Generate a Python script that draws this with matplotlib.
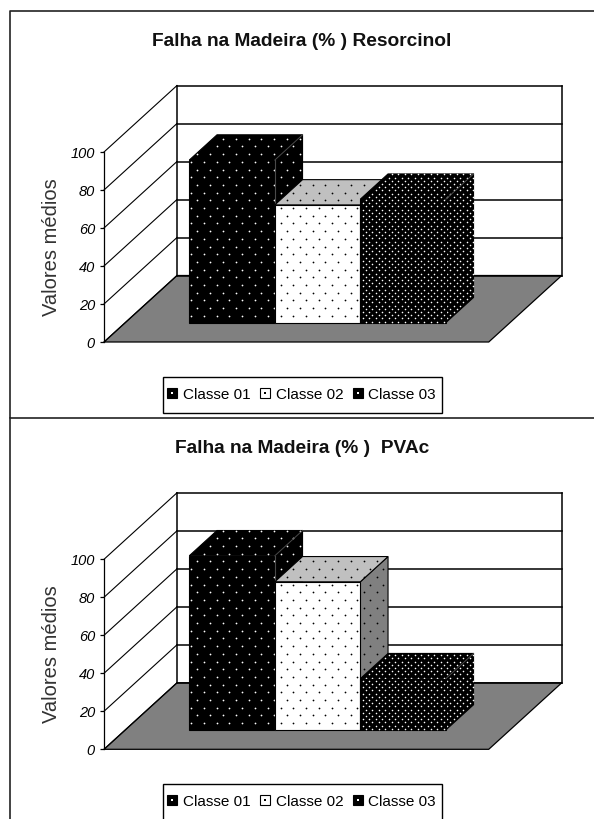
import numpy as np
import matplotlib
matplotlib.use("Agg")
import matplotlib.pyplot as plt
from matplotlib.lines import Line2D
from matplotlib.patches import Polygon, Rectangle
from matplotlib.path import Path
from matplotlib.transforms import blended_transform_factory
from matplotlib.legend_handler import HandlerTuple

plt.rcParams['font.family'] = ['Liberation Sans', 'DejaVu Sans']

# values
classes = ["Classe 01", "Classe 02", "Classe 03"]
resorcinol = [85.6, 62, 65]
pvac = [91.7, 78, 27]
yticks = [0, 20, 40, 60, 80, 100]

W, H = 594, 819
PX_X = 85.5   # pixels per category
PX_Y = 1.9    # pixels per percent
DEPTH_X = 73 / PX_X    # full floor depth, in data units
DEPTH_Y = 66.5 / PX_Y
FLOOR_W = 4.5
BAR_X0, BAR_W = 0.75, 1.0
BAR_D0, BAR_D1 = 0.29, 0.67
EDGE_GREY = "#4a4a4a"

# (front, top, side, dot colour, dot dx px, dot dy px, dot size)
styles = [
    ("black", "black", "black", "white", 12.8, 7.7, 1.6),
    ("white", "#c0c0c0", "#808080", "black", 12.8, 7.7, 1.6),
    ("black", "black", "black", "white", 6.5, 3.2, 1.3),
]


def proj(x, v, d):
    return x + DEPTH_X * d, v + DEPTH_Y * d


def dotted_face(ax, corners, color, dot, dx, dy, size, z):
    ax.add_patch(Polygon(corners, closed=True, facecolor=color, edgecolor="black", lw=0.8, zorder=z))
    # staggered dots, on a grid shared by the whole plot
    gx = dx / PX_X
    gy = dy / PX_Y
    xs, ys = [], []
    for i, yy in enumerate(np.arange(0.4 * gy, 180, gy)):
        xx = np.arange(0.3 * gx + (i % 2) * gx / 2, 6, gx)
        xs.extend(xx)
        ys.extend([yy] * len(xx))
    pts = np.column_stack([xs, ys])
    pts = pts[Path(corners).contains_points(pts)]
    ax.scatter(pts[:, 0], pts[:, 1], s=size, color=dot, linewidths=0, zorder=z + 0.1)


def draw_panel(y0_px, title, title_y, values):
    # axes runs from the front floor corner to the top right of the back wall
    right = (FLOOR_W + DEPTH_X) * PX_X
    top = (100 + DEPTH_Y) * PX_Y
    ax = fig.add_axes([104 / W, 1 - y0_px / H, right / W, top / H])
    ax.set_xlim(0, right / PX_X)
    ax.set_ylim(0, top / PX_Y)
    ax.patch.set_visible(False)
    for s in ["top", "right", "bottom"]:
        ax.spines[s].set_visible(False)
    ax.spines["left"].set_bounds(0, 100)
    ax.spines["left"].set_linewidth(0.9)
    ax.set_xticks([])
    ax.set_yticks(yticks)
    ax.tick_params(axis="y", length=3, width=0.9, pad=3.5, labelsize=10.5)
    for t in ax.get_yticklabels():
        t.set_style("italic")
    ax.set_ylabel("Valores médios", fontsize=14.5, color="#333333")
    ax.yaxis.set_label_coords(61 / W, 50, transform=blended_transform_factory(fig.transFigure, ax.transData))

    # floor
    floor = [proj(0, 0, 0), proj(FLOOR_W, 0, 0), proj(FLOOR_W, 0, 1), proj(0, 0, 1)]
    ax.add_patch(Polygon(floor, closed=True, facecolor="#808080", edgecolor="black", lw=0.9,
                         zorder=1, clip_on=False))

    # walls and gridlines
    for v in yticks:
        ax.plot(*zip(proj(0, v, 0), proj(0, v, 1)), color="black", lw=0.8, zorder=2, clip_on=False)
        ax.plot(*zip(proj(0, v, 1), proj(FLOOR_W, v, 1)), color="black", lw=1.1, zorder=2, clip_on=False)
    ax.plot(*zip(proj(0, 0, 1), proj(0, 100, 1)), color="black", lw=1.1, zorder=2, clip_on=False)
    ax.plot(*zip(proj(FLOOR_W, 0, 1), proj(FLOOR_W, 100, 1)), color="black", lw=1.1, zorder=2, clip_on=False)

    # bars, left to right
    for i, v in enumerate(values):
        fc, tc, sc, dot, dx, dy, size = styles[i]
        x0 = BAR_X0 + i * BAR_W
        x1 = x0 + BAR_W
        z = 3 + i
        front = [proj(x0, 0, BAR_D0), proj(x1, 0, BAR_D0), proj(x1, v, BAR_D0), proj(x0, v, BAR_D0)]
        roof = [proj(x0, v, BAR_D0), proj(x1, v, BAR_D0), proj(x1, v, BAR_D1), proj(x0, v, BAR_D1)]
        side = [proj(x1, 0, BAR_D0), proj(x1, 0, BAR_D1), proj(x1, v, BAR_D1), proj(x1, v, BAR_D0)]
        dotted_face(ax, side, sc, dot, dx, dy, size, z)
        dotted_face(ax, roof, tc, dot, dx, dy, size, z + 0.2)
        dotted_face(ax, front, fc, dot, dx, dy, size, z + 0.4)
        # black bars only show their corner edges as a faint grey line
        if fc == "black":
            ax.plot(*zip(proj(x1, v, BAR_D0), proj(x1, v, BAR_D1)), color=EDGE_GREY, lw=0.7, zorder=z + 0.5)
        if i == 0:
            ax.plot(*zip(proj(x1, 0, BAR_D0), proj(x1, v, BAR_D0)), color=EDGE_GREY, lw=0.8, zorder=z + 0.5)

    fig.text(302 / W, 1 - title_y / H, title, ha="center", va="center",
             fontsize=13.8, fontweight="bold", color="#111111")
    return ax


def legend_handles():
    out = []
    for fc, dot in [("black", "white"), ("white", "black"), ("black", "white")]:
        out.append((Line2D([], [], marker="s", ms=6.5, mfc=fc, mec="black", mew=0.8, ls=""),
                    Line2D([], [], marker="s", ms=1.5, mfc=dot, mec=dot, mew=0, ls="")))
    return out


def draw_legend(y_top, y_bot):
    # box is drawn apart, the reference has less side padding than height
    fig.add_artist(Rectangle((163 / W, 1 - y_bot / H), 279 / W, (y_bot - y_top) / H,
                             transform=fig.transFigure, facecolor="white", edgecolor="black",
                             lw=1.0, zorder=19))
    leg = fig.legend(legend_handles(), classes, ncol=3, loc="center",
                     bbox_to_anchor=(301 / W, 1 - (y_top + 17.8) / H),
                     fontsize=11, frameon=False, borderpad=0, handlelength=0.8,
                     handletextpad=0.3, columnspacing=0.55, labelspacing=0,
                     handler_map={tuple: HandlerTuple(ndivide=1, pad=0)})
    leg.set_zorder(20)


fig = plt.figure(figsize=(W / 100, H / 100), dpi=100, facecolor="white")

# panel frames, they run off the right edge of the picture
fig.add_artist(Line2D([1, 10 / W, 10 / W, 1], [1 - 11 / H, 1 - 11 / H, 1 - 418.5 / H, 1 - 418.5 / H],
                      color="#222222", lw=1.2))
fig.add_artist(Line2D([10 / W, 10 / W], [1 - 418.5 / H, 0], color="#222222", lw=1.2))

draw_panel(342, "Falha na Madeira (% ) Resorcinol", 41.5, resorcinol)
draw_panel(749.3, "Falha na Madeira (% )  PVAc", 448, pvac)
draw_legend(377, 412.7)
draw_legend(784, 825)

fig.savefig("out.png", dpi=100)
